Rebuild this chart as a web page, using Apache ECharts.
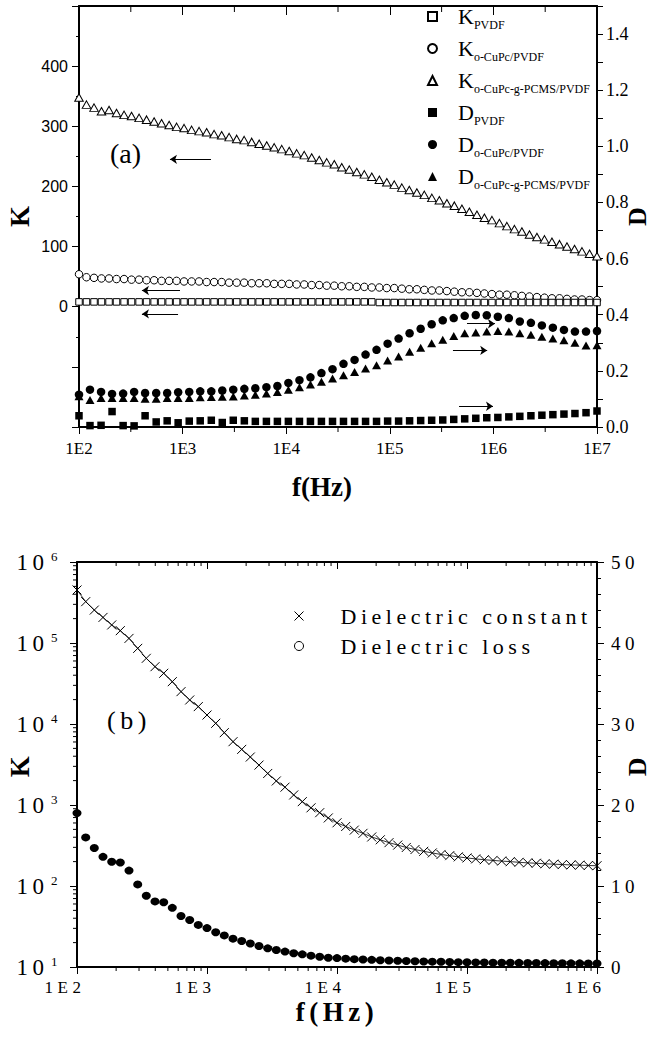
<!DOCTYPE html>
<html>
<head>
<meta charset="UTF-8">
<title>K and D versus frequency</title>
<script src="https://cdn.jsdelivr.net/npm/echarts@6/dist/echarts.min.js"></script>
<style>
  html, body { margin: 0; padding: 0; background: #fff; }
  #chartA { position: absolute; left: 0; top: 0; width: 652px; height: 520px; }
  #chartB { position: absolute; left: 0; top: 520px; width: 652px; height: 520px; }
  #chartB text { letter-spacing: 4.5px; }
</style>
</head>
<body>
<div id="chartA"></div>
<div id="chartB"></div>
<script>
// ---------- panel (a) data ----------
// log10 of frequency (Hz) for the K curves
var expK = [2.000, 2.072, 2.145, 2.217, 2.290, 2.362, 2.435, 2.507, 2.580, 2.652,
  2.725, 2.797, 2.870, 2.942, 3.014, 3.087, 3.159, 3.232, 3.304, 3.377,
  3.449, 3.522, 3.594, 3.667, 3.739, 3.812, 3.884, 3.957, 4.029, 4.101,
  4.174, 4.246, 4.319, 4.391, 4.464, 4.536, 4.609, 4.681, 4.754, 4.826,
  4.899, 4.971, 5.043, 5.116, 5.188, 5.261, 5.333, 5.406, 5.478, 5.551,
  5.623, 5.696, 5.768, 5.841, 5.913, 5.986, 6.058, 6.130, 6.203, 6.275,
  6.348, 6.420, 6.493, 6.565, 6.638, 6.710, 6.783, 6.855, 6.928, 7.000];
var kPVDF = [8, 8, 8, 8, 8, 8, 8, 8, 8, 8, 8, 8, 8, 8, 8, 8, 8, 8, 8, 8,
  8, 8, 8, 8, 8, 8, 8, 8, 8, 8, 8, 8, 8, 8, 8, 8, 8, 8, 8, 8,
  7, 7, 7, 7, 7, 7, 7, 7, 7, 7, 7, 7, 7, 7, 7, 7, 7, 7, 7, 7,
  7, 7, 7, 7, 7, 7, 7, 7, 7, 7];
var kCuPc = [54, 49, 48, 47, 47, 46, 46, 45, 45, 44,
  44, 43, 43, 43, 42, 42, 42, 41, 41, 41,
  40, 40, 40, 39, 39, 39, 38, 38, 38, 37,
  37, 36, 36, 35, 35, 34, 34, 33, 33, 32,
  32, 31, 31, 30, 29, 29, 28, 27, 27, 26,
  25, 24, 24, 23, 22, 21, 20, 20, 19, 18,
  17, 16, 15, 14, 14, 13, 12, 12, 11, 11];
var kPCMS = [348, 336, 331, 325, 327, 322, 319, 317, 314, 311,
  308, 305, 302, 299, 297, 294, 292, 290, 287, 285,
  282, 279, 277, 274, 271, 268, 265, 262, 259, 255,
  252, 248, 244, 240, 237, 232, 228, 224, 220, 216,
  211, 207, 203, 198, 194, 190, 186, 181, 177, 172,
  168, 163, 158, 153, 148, 144, 139, 134, 129, 125,
  120, 116, 112, 108, 104, 100, 96, 92, 88, 84];

// log10 of frequency (Hz) for the D curves
var expD = [2.000, 2.106, 2.213, 2.319, 2.426, 2.532, 2.638, 2.745, 2.851, 2.957,
  3.064, 3.170, 3.277, 3.383, 3.489, 3.596, 3.702, 3.809, 3.915, 4.021,
  4.128, 4.234, 4.340, 4.447, 4.553, 4.660, 4.766, 4.872, 4.979, 5.085,
  5.191, 5.298, 5.404, 5.511, 5.617, 5.723, 5.830, 5.936, 6.043, 6.149,
  6.255, 6.362, 6.468, 6.574, 6.681, 6.787, 6.894, 7.000];
var dPVDF = [0.040, 0.005, 0.006, 0.055, 0.005, 0.004, 0.040, 0.018, 0.022, 0.015,
  0.021, 0.022, 0.024, 0.016, 0.024, 0.022, 0.020, 0.020, 0.020, 0.020,
  0.020, 0.020, 0.020, 0.020, 0.020, 0.020, 0.020, 0.020, 0.021, 0.021,
  0.022, 0.023, 0.024, 0.025, 0.027, 0.029, 0.031, 0.033, 0.034, 0.036,
  0.038, 0.040, 0.042, 0.044, 0.046, 0.048, 0.051, 0.057];
var dCuPc = [0.115, 0.133, 0.125, 0.118, 0.119, 0.125, 0.121, 0.121, 0.121, 0.124,
  0.125, 0.127, 0.127, 0.130, 0.133, 0.136, 0.138, 0.142, 0.146, 0.157,
  0.167, 0.177, 0.192, 0.206, 0.225, 0.239, 0.258, 0.275, 0.297, 0.315,
  0.334, 0.350, 0.366, 0.380, 0.388, 0.396, 0.399, 0.398, 0.393, 0.388,
  0.376, 0.371, 0.362, 0.354, 0.346, 0.340, 0.340, 0.342];
var dPCMS = [0.110, 0.096, 0.103, 0.103, 0.103, 0.103, 0.101, 0.101, 0.103, 0.103,
  0.103, 0.106, 0.107, 0.108, 0.109, 0.112, 0.115, 0.119, 0.125, 0.133,
  0.142, 0.151, 0.161, 0.173, 0.184, 0.196, 0.208, 0.220, 0.237, 0.251,
  0.268, 0.282, 0.298, 0.311, 0.324, 0.334, 0.337, 0.340, 0.342, 0.340,
  0.334, 0.329, 0.322, 0.315, 0.309, 0.300, 0.290, 0.291];

var namesA = ['K PVDF', 'K o-CuPc/PVDF', 'K o-CuPc-g-PCMS/PVDF',
  'D PVDF', 'D o-CuPc/PVDF', 'D o-CuPc-g-PCMS/PVDF'];
var decadeLabelsA = ['1E2', '1E3', '1E4', '1E5', '1E6', '1E7'];
var halfDecadeTicksA = [316.23, 3162.3, 31623, 316228, 3162278];
// arrows: [from f, to f, level]
var arrowsK = [[1879, 755, 245], [944, 405, 27], [904, 405, -12]];
var arrowsD = [[556000, 1035000, 0.368], [407000, 871000, 0.273], [466000, 991000, 0.074]];

// ---------- panel (b) data ----------
var expB = [2.000, 2.067, 2.133, 2.200, 2.267, 2.333, 2.400, 2.467, 2.533, 2.600,
  2.667, 2.733, 2.800, 2.867, 2.933, 3.000, 3.067, 3.133, 3.200, 3.267,
  3.333, 3.400, 3.467, 3.533, 3.600, 3.667, 3.733, 3.800, 3.867, 3.933,
  4.000, 4.067, 4.133, 4.200, 4.267, 4.333, 4.400, 4.467, 4.533, 4.600,
  4.667, 4.733, 4.800, 4.867, 4.933, 5.000, 5.067, 5.133, 5.200, 5.267,
  5.333, 5.400, 5.467, 5.533, 5.600, 5.667, 5.733, 5.800, 5.867, 5.933, 6.000];
var kB = [451000, 324000, 255000, 207000, 167000, 142000, 114000, 85900, 64700, 51000,
  42300, 33300, 25100, 19800, 16400, 12900, 10200, 7820, 6050, 4860,
  3910, 3110, 2450, 1980, 1660, 1330, 1100, 923, 804, 692,
  603, 543, 490, 447, 403, 372, 343, 320, 299, 282,
  268, 256, 245, 237, 229, 222, 216, 211, 207, 203,
  200, 196, 193, 191, 188, 186, 184, 182, 181, 179, 178];
var dB = [19.0, 16.0, 14.7, 13.6, 13.0, 12.9, 11.9, 10.2, 8.8, 8.1,
  8.0, 7.3, 6.3, 5.8, 5.2, 4.8, 4.3, 3.9, 3.5, 3.2,
  2.9, 2.6, 2.3, 2.1, 1.9, 1.7, 1.56, 1.40, 1.27, 1.15,
  1.10, 1.03, 0.97, 0.92, 0.88, 0.84, 0.80, 0.77, 0.74, 0.71,
  0.68, 0.66, 0.64, 0.62, 0.60, 0.58, 0.57, 0.55, 0.54, 0.53,
  0.52, 0.51, 0.50, 0.49, 0.48, 0.47, 0.46, 0.45, 0.45, 0.44, 0.44];
var namesB = ['Dielectric constant', 'Dielectric loss'];
var decadeLabelsB = ['1E2', '1E3', '1E4', '1E5', '1E6'];
var minorMults = [2, 3, 4, 5, 6, 7, 8, 9];

var SERIF = 'Liberation Serif, Times New Roman, serif';
var SANS = 'Liberation Sans, Arial, sans-serif';
var CROSS = 'path://M0,0L10,10M0,10L10,0';

function toPoints(exps, vals) {
  return exps.map(function (e, i) { return [Math.pow(10, e), vals[i]]; });
}

function logMinors(fromExp, toExp) {
  var out = [];
  for (var d = fromExp; d < toExp; d++) {
    minorMults.forEach(function (m) { out.push(m * Math.pow(10, d)); });
  }
  return out;
}

// short tick marks drawn through the axes' own scales
function tickSeries(values, dir, ref, len, yAxisIndex) {
  return {
    type: 'custom', silent: true, xAxisIndex: 0, yAxisIndex: yAxisIndex, z: 10,
    data: values.map(function (v) { return dir === 'x' ? [v, ref] : [ref, v]; }),
    renderItem: function (params, api) {
      var p = api.coord([api.value(0), api.value(1)]);
      var dx = dir === 'x' ? 0 : len, dy = dir === 'x' ? len : 0;
      return {
        type: 'line',
        shape: { x1: p[0], y1: p[1], x2: p[0] + dx, y2: p[1] + dy },
        style: { stroke: '#000', lineWidth: 1 }
      };
    }
  };
}

function frameLine() {
  return { show: true, onZero: false, lineStyle: { color: '#000', width: 2 } };
}
function tickStyle(len, inside) {
  return { show: true, inside: !!inside, length: len, lineStyle: { color: '#000', width: 1 } };
}
function nameStyle(extra) {
  var s = { fontFamily: SERIF, fontWeight: 'bold', fontSize: 27, color: '#000' };
  for (var k in extra) s[k] = extra[k];
  return s;
}

function arrowLines(list) {
  return {
    silent: true, symbol: ['none', 'arrow'], symbolSize: 7,
    label: { show: false }, animation: false,
    lineStyle: { color: '#000', width: 1, type: 'solid', opacity: 1 },
    data: list.map(function (a) {
      return [{ coord: [a[0], a[2]] }, { coord: [a[1], a[2]] }];
    })
  };
}

// ---------- chart (a) ----------
var chartA = echarts.init(document.getElementById('chartA'), null, { renderer: 'svg' });
var openStyle = { color: '#fff', borderColor: '#000', borderWidth: 1, opacity: 1 };
var fillStyle = { color: '#000', borderColor: '#000', borderWidth: 0, opacity: 1 };

chartA.setOption({
  animation: false,
  backgroundColor: '#fff',
  grid: { left: 79, top: 6, width: 518, height: 421, containLabel: false, outerBoundsMode: 'none' },
  xAxis: [{
    type: 'log', logBase: 10, min: 100, max: 1e7, position: 'bottom',
    axisLine: frameLine(), axisTick: tickStyle(7), splitLine: { show: false },
    axisLabel: {
      margin: 13, color: '#000', fontFamily: SERIF, fontSize: 17,
      formatter: function (v) { return decadeLabelsA[Math.round(Math.log10(v)) - 2]; }
    },
    name: 'f(Hz)', nameLocation: 'middle', nameGap: 46, nameMoveOverlap: false,
    nameTextStyle: nameStyle({ padding: [0, 32, 0, 0] })
  }, {
    type: 'log', logBase: 10, min: 100, max: 1e7, position: 'top',
    axisLine: frameLine(), axisTick: tickStyle(9, true), splitLine: { show: false },
    axisLabel: { show: false }
  }],
  yAxis: [{
    type: 'value', min: -200, max: 500, interval: 100, position: 'left',
    axisLine: frameLine(), axisTick: tickStyle(7), splitLine: { show: false },
    minorTick: { show: true, splitNumber: 2, length: 3, lineStyle: { color: '#000', width: 1 } },
    minorSplitLine: { show: false },
    axisLabel: {
      margin: 11, color: '#000', fontFamily: SANS, fontSize: 16,
      formatter: function (v) { return (v >= 0 && v <= 400) ? String(v) : ''; }
    },
    name: 'K', nameLocation: 'middle', nameGap: 46, nameMoveOverlap: false,
    nameTextStyle: nameStyle({})
  }, {
    type: 'value', min: 0, max: 1.5, interval: 0.1, position: 'right',
    axisLine: frameLine(), axisTick: tickStyle(6), splitLine: { show: false },
    axisLabel: {
      margin: 9, color: '#000', fontFamily: SERIF, fontSize: 18,
      formatter: function (v) { return Math.round(v * 10) % 2 === 0 ? v.toFixed(1) : ''; }
    },
    name: 'D', nameLocation: 'middle', nameGap: 27, nameMoveOverlap: false,
    nameTextStyle: nameStyle({ fontSize: 26 })
  }],
  legend: {
    orient: 'vertical', left: 427, top: 2, padding: 0, itemGap: 3,
    itemWidth: 9, itemHeight: 9, selectedMode: false,
    data: namesA,
    formatter: function (name) {
      var p = name.indexOf(' ');
      return '{m|' + name.slice(0, p) + '}{s|' + name.slice(p + 1) + '}';
    },
    textStyle: {
      rich: {
        m: { fontFamily: SERIF, fontSize: 22, lineHeight: 22, verticalAlign: 'top', color: '#000', padding: [0, 0, 0, 16] },
        s: { fontFamily: SERIF, fontSize: 12, lineHeight: 12, color: '#000', padding: [17, 0, 0, 0] }
      }
    }
  },
  graphic: [{
    type: 'text', x: 110, y: 153,
    style: { text: '(a)', fontFamily: SERIF, fontSize: 28, fill: '#000', align: 'left', verticalAlign: 'middle' }
  }],
  series: [
    { name: namesA[0], type: 'scatter', yAxisIndex: 0, data: toPoints(expK, kPVDF),
      symbol: 'rect', symbolSize: 6.5, itemStyle: openStyle, z: 3,
      markLine: arrowLines(arrowsK) },
    { name: namesA[1], type: 'scatter', yAxisIndex: 0, data: toPoints(expK, kCuPc),
      symbol: 'circle', symbolSize: 7.5, itemStyle: openStyle, z: 2 },
    { name: namesA[2], type: 'scatter', yAxisIndex: 0, data: toPoints(expK, kPCMS),
      symbol: 'triangle', symbolSize: [8.5, 7.5], itemStyle: openStyle, z: 2 },
    { name: namesA[3], type: 'scatter', yAxisIndex: 1, data: toPoints(expD, dPVDF),
      symbol: 'rect', symbolSize: 7.5, itemStyle: fillStyle, z: 2,
      markLine: arrowLines(arrowsD) },
    { name: namesA[4], type: 'scatter', yAxisIndex: 1, data: toPoints(expD, dCuPc),
      symbol: 'circle', symbolSize: 8.5, itemStyle: fillStyle, z: 2 },
    { name: namesA[5], type: 'scatter', yAxisIndex: 1, data: toPoints(expD, dPCMS),
      symbol: 'triangle', symbolSize: [9, 8], itemStyle: fillStyle, z: 2 },
    tickSeries(halfDecadeTicksA, 'x', -200, 5, 0),
    tickSeries(halfDecadeTicksA, 'x', 500, 6, 0)
  ]
});

// ---------- chart (b) ----------
var chartB = echarts.init(document.getElementById('chartB'), null, { renderer: 'svg' });

chartB.setOption({
  animation: false,
  backgroundColor: '#fff',
  grid: { left: 77, top: 42, width: 520, height: 405, containLabel: false, outerBoundsMode: 'none' },
  xAxis: [{
    type: 'log', logBase: 10, min: 100, max: 1e6, position: 'bottom',
    axisLine: frameLine(), axisTick: tickStyle(7), splitLine: { show: false },
    axisLabel: {
      margin: 12, color: '#000', fontFamily: SERIF, fontSize: 17, padding: [0, 24, 0, 0],
      formatter: function (v) { return decadeLabelsB[Math.round(Math.log10(v)) - 2]; }
    },
    name: 'f(Hz)', nameLocation: 'middle', nameGap: 31, nameMoveOverlap: false,
    nameTextStyle: nameStyle({})
  }, {
    type: 'log', logBase: 10, min: 100, max: 1e6, position: 'top',
    axisLine: frameLine(), axisTick: tickStyle(7, true), splitLine: { show: false },
    axisLabel: { show: false }
  }],
  yAxis: [{
    type: 'log', logBase: 10, min: 10, max: 1e6, position: 'left',
    axisLine: frameLine(), axisTick: tickStyle(7), splitLine: { show: false },
    axisLabel: {
      margin: 15, color: '#000',
      formatter: function (v) { return '{b|10}{s|' + Math.round(Math.log10(v)) + '}'; },
      rich: {
        b: { fontFamily: SERIF, fontSize: 23, lineHeight: 25, color: '#000' },
        s: { fontFamily: SERIF, fontSize: 13, lineHeight: 13, verticalAlign: 'top', color: '#000', padding: [0, 0, 0, 7] }
      }
    },
    name: 'K', nameLocation: 'middle', nameGap: 44, nameMoveOverlap: false,
    nameTextStyle: nameStyle({})
  }, {
    type: 'value', min: 0, max: 50, interval: 10, position: 'right',
    axisLine: frameLine(), axisTick: tickStyle(7), splitLine: { show: false },
    minorTick: { show: true, splitNumber: 5, length: 4, lineStyle: { color: '#000', width: 1 } },
    minorSplitLine: { show: false },
    axisLabel: { margin: 14, color: '#000', fontFamily: SERIF, fontSize: 19 },
    name: 'D', nameLocation: 'middle', nameGap: 27, nameMoveOverlap: false,
    nameTextStyle: nameStyle({ fontSize: 26 })
  }],
  legend: {
    orient: 'vertical', left: 294, top: 85, padding: 0, itemGap: 8,
    itemWidth: 9, itemHeight: 9, selectedMode: false,
    data: [
      { name: namesB[0], icon: CROSS, itemStyle: { color: '#000', borderColor: '#000', borderWidth: 1 } },
      { name: namesB[1], icon: 'circle', itemStyle: { color: '#fff', borderColor: '#000', borderWidth: 1 } }
    ],
    formatter: function (name) { return '{t|' + name + '}'; },
    textStyle: {
      rich: { t: { fontFamily: SERIF, fontSize: 22, lineHeight: 22, color: '#000', padding: [0, 0, 0, 32] } }
    }
  },
  graphic: [{
    type: 'text', x: 107, y: 200,
    style: { text: '(b)', fontFamily: SERIF, fontSize: 26, fill: '#000', align: 'left', verticalAlign: 'middle' }
  }],
  series: [
    { name: namesB[0], type: 'line', yAxisIndex: 0, data: toPoints(expB, kB),
      symbol: CROSS, symbolSize: 9, showAllSymbol: true,
      lineStyle: { color: '#000', width: 0.8 },
      itemStyle: { color: '#000', borderColor: '#000', borderWidth: 1, opacity: 1 } },
    { name: namesB[1], type: 'scatter', yAxisIndex: 1, data: toPoints(expB, dB),
      symbol: 'circle', symbolSize: [9, 8], itemStyle: { color: '#000', opacity: 1 } },
    tickSeries(logMinors(2, 6), 'x', 10, 4, 0),
    tickSeries(logMinors(2, 6), 'x', 1e6, 4, 0),
    tickSeries(logMinors(1, 6), 'y', 100, -4, 0)
  ]
});
</script>
</body>
</html>
